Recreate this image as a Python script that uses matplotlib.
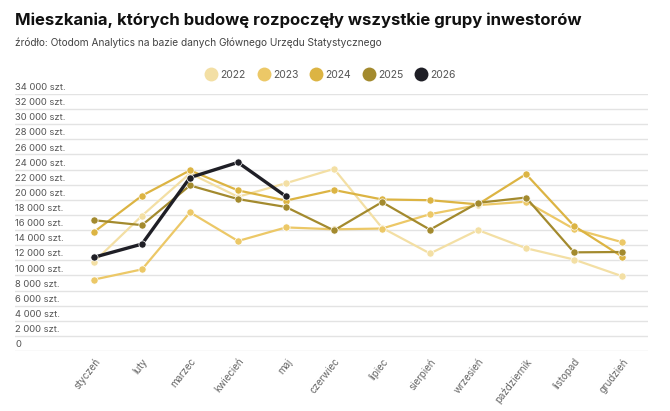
import matplotlib
matplotlib.use("Agg")
import matplotlib.pyplot as plt
from matplotlib.lines import Line2D
import matplotlib.transforms as mtransforms

plt.rcParams['font.family'] = ['Inter', 'DejaVu Sans']

months = ['styczeń', 'luty', 'marzec', 'kwiecień', 'maj', 'czerwiec',
          'lipiec', 'sierpień', 'wrzesień', 'październik', 'listopad', 'grudzień']

y2022 = [11800, 17900, 23500, 20400, 22200, 24100, 16300, 12900, 16000, 13600, 12100, 9900]
y2023 = [9450, 10800, 18350, 14550, 16350, 16100, 16200, 18100, 19300, 19750, 16150, 14400]
y2024 = [15750, 20550, 23900, 21250, 19900, 21300, 20050, 19950, 19400, 23400, 16550, 12500]
y2025 = [17300, 16650, 21900, 20100, 19050, 15950, 19700, 16050, 19600, 20300, 13050, 13100]
y2026 = [12400, 14150, 22950, 24950, 20450]

years = ['2022', '2023', '2024', '2025', '2026']
series = [y2022, y2023, y2024, y2025, y2026]
colors = ['#f3dfa4', '#ecc867', '#dcb443', '#a38a2e', '#1f1f26']

yticks = list(range(0, 34001, 2000))

fig = plt.figure(figsize=(6.7, 4.11), dpi=100)
ax = fig.add_axes([15 / 670, 1 - 351 / 411, (648 - 15) / 670, (351 - 94) / 411])

for yr, vals, col in zip(years, series, colors):
    lw = 2.4 if yr == '2026' else 1.6
    ax.plot(range(len(vals)), vals, color=col, lw=lw, marker='o', markersize=5.2,
            markeredgecolor='white', markeredgewidth=0.5, zorder=3, clip_on=False)

ax.set_xlim((15 - 94) / 48, (648 - 94) / 48)
ax.set_ylim(0, 34000)
ax.set_yticks(yticks)
ax.set_yticklabels([])
ax.tick_params(axis='y', length=0)
ax.grid(axis='y', color='#e3e3e3', lw=1)
ax.set_axisbelow(True)
for s in ax.spines.values():
    s.set_visible(False)

trans = mtransforms.blended_transform_factory(ax.transAxes, ax.transData)
for t in yticks:
    lab = '0' if t == 0 else f'{t:,}'.replace(',', ' ') + ' szt.'
    ax.text(0, t + 250, lab, transform=trans, ha='left', va='bottom',
            fontsize=6.8, color='#555555')

ax.set_xticks(range(len(months)))
ax.set_xticklabels(months, rotation=52, ha='right', va='top',
                   rotation_mode='anchor', fontsize=7, color='#666666')
ax.tick_params(axis='x', length=0, pad=4)

fig.text(15 / 670, 1 - 20 / 411, 'Mieszkania, których budowę rozpoczęły wszystkie grupy inwestorów',
         fontsize=12.0, fontweight='bold', color='#111111', va='center', ha='left')
fig.text(15 / 670, 1 - 43 / 411, 'źródło: Otodom Analytics na bazie danych Głównego Urzędu Statystycznego',
         fontsize=7.3, color='#444444', va='center', ha='left')

handles = [Line2D([], [], ls='none', marker='o', markersize=10, color=c, markeredgewidth=0)
           for c in colors]
fig.legend(handles, years, loc='center', bbox_to_anchor=(331 / 670, 1 - 75 / 411),
           ncol=5, frameon=False, fontsize=7.5, labelcolor='#555555',
           handletextpad=0.4, columnspacing=1.2, handlelength=1.0)

fig.savefig('out.png', dpi=100, facecolor='white')
